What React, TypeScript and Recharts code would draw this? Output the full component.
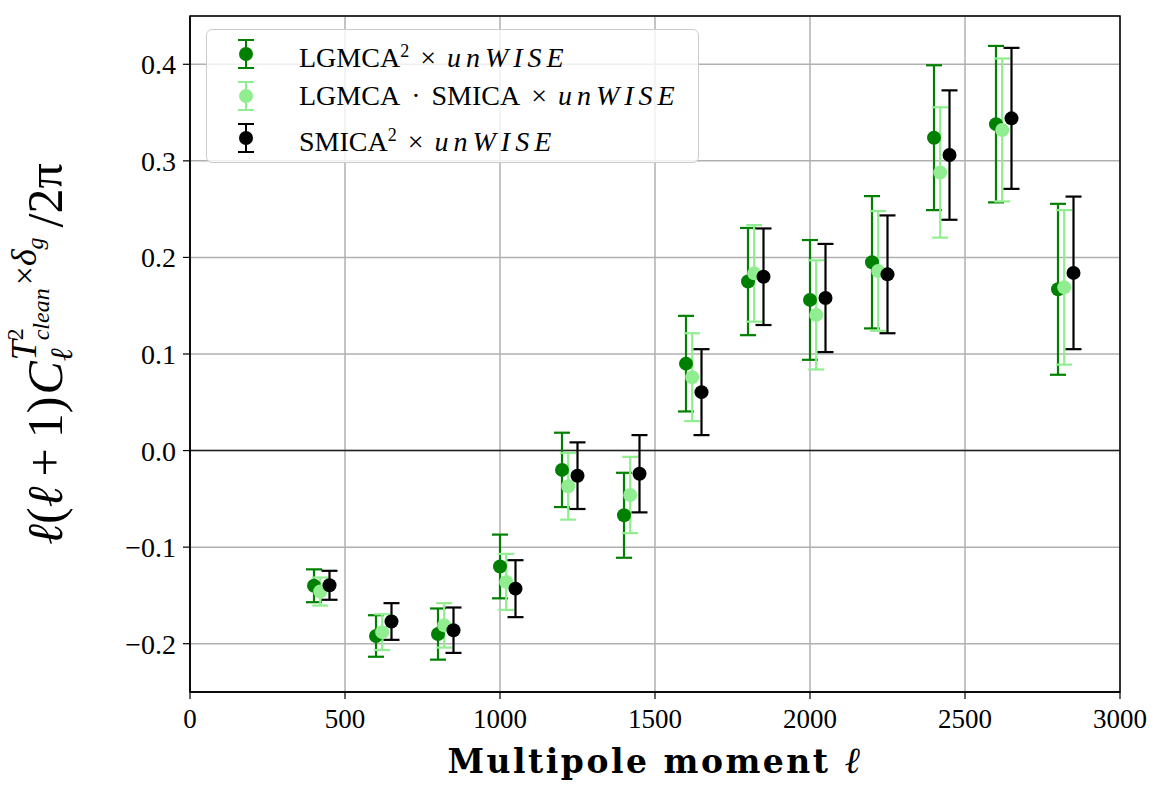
import React from 'react';
import {
  ScatterChart,
  Scatter,
  XAxis,
  YAxis,
  CartesianGrid,
  ErrorBar,
  ReferenceLine,
  ReferenceArea,
  Legend,
  Label,
} from 'recharts';

// multipole bins
const ells = [400, 600, 800, 1000, 1200, 1400, 1600, 1800, 2000, 2200, 2400, 2600, 2800];

// LGMCA^2 x unWISE
const lgmcaVals = [-0.140, -0.192, -0.190, -0.120, -0.020, -0.067, 0.090, 0.175, 0.156, 0.195, 0.324, 0.338, 0.167];
const lgmcaErr = [0.017, 0.0215, 0.0265, 0.033, 0.0385, 0.044, 0.0495, 0.0555, 0.062, 0.0685, 0.075, 0.081, 0.0885];

// LGMCA . SMICA x unWISE
const crossVals = [-0.146, -0.188, -0.181, -0.136, -0.037, -0.046, 0.076, 0.1835, 0.1405, 0.186, 0.288, 0.332, 0.169];
const crossErr = [0.0145, 0.0185, 0.023, 0.029, 0.0345, 0.0395, 0.0455, 0.05, 0.0565, 0.062, 0.0675, 0.074, 0.08];

// SMICA^2 x unWISE
const smicaVals = [-0.1395, -0.177, -0.186, -0.143, -0.026, -0.024, 0.0605, 0.18, 0.158, 0.1825, 0.306, 0.344, 0.184];
const smicaErr = [0.015, 0.019, 0.0235, 0.0295, 0.0345, 0.04, 0.0445, 0.05, 0.056, 0.061, 0.067, 0.073, 0.079];

const xTicks = [0, 500, 1000, 1500, 2000, 2500, 3000];
const yTicks = [-0.2, -0.1, 0.0, 0.1, 0.2, 0.3, 0.4];

const FONT = '"Liberation Serif", "DejaVu Serif", serif';

const series = [
  { name: 'lgmca', shift: 0, vals: lgmcaVals, errs: lgmcaErr, color: '#008000' },
  { name: 'cross', shift: 20, vals: crossVals, errs: crossErr, color: '#90ee90' },
  { name: 'smica', shift: 50, vals: smicaVals, errs: smicaErr, color: '#000000' },
];

const build = (shift: number, vals: number[], errs: number[]) =>
  ells.map((l, i) => ({ x: l + shift, y: vals[i], err: errs[i] }));

const fmtY = (v: number) => (v < 0 ? '\u2212' + Math.abs(v).toFixed(1) : v.toFixed(1));

const dot = (color: string) => (props: any) =>
  <circle cx={props.cx} cy={props.cy} r={7} fill={color} />;

const LegendMarker = ({ color }: { color: string }) => (
  <svg width={30} height={34} style={{ display: 'block' }}>
    <line x1={15} x2={15} y1={3} y2={31} stroke={color} strokeWidth={2} />
    <line x1={7} x2={23} y1={3} y2={3} stroke={color} strokeWidth={2} />
    <line x1={7} x2={23} y1={31} y2={31} stroke={color} strokeWidth={2} />
    <circle cx={15} cy={17} r={7} fill={color} />
  </svg>
);

const op = (s: string) => <span style={{ margin: '0 11px' }}>{s}</span>;
const unwise = <i style={{ letterSpacing: 5 }}>unWISE</i>;
const sq = <sup style={{ fontSize: 18, verticalAlign: 10 }}>2</sup>;

const legendRows = [
  { color: '#008000', label: <>LGMCA{sq}{op('×')}{unwise}</> },
  { color: '#90ee90', label: <>LGMCA{op('·')}SMICA{op('×')}{unwise}</> },
  { color: '#000000', label: <>SMICA{sq}{op('×')}{unwise}</> },
];

const LegendBox = () => (
  <div
    style={{
      width: 493,
      height: 134,
      border: '1px solid #cccccc',
      borderRadius: 6,
      background: 'rgba(255,255,255,0.8)',
      fontFamily: FONT,
      fontSize: 28,
      boxSizing: 'border-box',
      paddingTop: 3,
    }}
  >
    {legendRows.map((r, i) => (
      <div key={i} style={{ display: 'flex', alignItems: 'center', height: 42, lineHeight: '28px', whiteSpace: 'nowrap' }}>
        <div style={{ width: 24 }} />
        <LegendMarker color={r.color} />
        <div style={{ width: 38 }} />
        <span>{r.label}</span>
      </div>
    ))}
  </div>
);

const YLabel = (props: any) => {
  const vb = props.viewBox || { x: 0, y: 16, width: 190, height: 676 };
  const cx = 62;
  const cy = vb.y + vb.height / 2;
  return (
    <text
      transform={`translate(${cx},${cy}) rotate(-90)`}
      textAnchor="middle"
      fontFamily={FONT}
      fontSize={50}
      fill="#000"
    >
      <tspan fontStyle="italic">ℓ</tspan>(<tspan fontStyle="italic">ℓ</tspan>
      <tspan dx={10}>+</tspan>
      <tspan dx={10}>1)</tspan>
      <tspan fontStyle="italic" dx={2}>C</tspan>
      <tspan fontStyle="italic" fontSize={31} dy={10}>ℓ</tspan>
      <tspan fontStyle="italic" fontSize={36} dx={-12} dy={-36}>T</tspan>
      <tspan fontSize={24} dy={-13}>2</tspan>
      <tspan fontStyle="italic" fontSize={24} dx={-12} dy={26}>clean</tspan>
      <tspan fontSize={34} dx={3} dy={-13}>×</tspan>
      <tspan fontStyle="italic" fontSize={36}>δ</tspan>
      <tspan fontStyle="italic" fontSize={24} dy={7}>g</tspan>
      <tspan fontSize={50} dx={10} dy={19}>/2π</tspan>
    </text>
  );
};

const XLabel = (props: any) => {
  const vb = props.viewBox || { x: 190, y: 692, width: 930, height: 114 };
  return (
    <text
      x={vb.x + vb.width / 2}
      y={vb.y + 81}
      textAnchor="middle"
      fontFamily='"DejaVu Serif", serif'
      fontSize={33}
      fontWeight="bold"
      letterSpacing={2.5}
      fill="#000"
    >
      Multipole moment <tspan fontFamily={FONT} fontStyle="italic" fontWeight="normal" fontSize={37}>ℓ</tspan>
    </text>
  );
};

export default function App() {
  return (
    <div style={{ position: 'absolute', left: 0, top: 0, width: 1173, height: 806, background: '#fff' }}>
      <ScatterChart width={1173} height={806} margin={{ top: 16, right: 53, bottom: 0, left: 0 }}>
        <CartesianGrid stroke="#b0b0b0" strokeWidth={1.5} />
        <XAxis
          type="number"
          dataKey="x"
          domain={[0, 3000]}
          ticks={xTicks}
          allowDataOverflow
          height={114}
          tickSize={7}
          tickMargin={10}
          tick={{ fontFamily: FONT, fontSize: 27, fill: '#000' }}
          stroke="#000"
          axisLine={{ stroke: '#000', strokeWidth: 1.5 }}
          tickLine={{ stroke: '#000', strokeWidth: 1.2 }}
        >
          <Label content={<XLabel />} />
        </XAxis>
        <YAxis
          type="number"
          dataKey="y"
          domain={[-0.25, 0.45]}
          ticks={yTicks}
          allowDataOverflow
          width={190}
          tickFormatter={fmtY}
          tickSize={7}
          tickMargin={7}
          tick={{ fontFamily: FONT, fontSize: 28, fill: '#000' }}
          axisLine={{ stroke: '#000', strokeWidth: 1.5 }}
          tickLine={{ stroke: '#000', strokeWidth: 1.2 }}
        >
          <Label content={<YLabel />} />
        </YAxis>
        <ReferenceLine y={0} stroke="#222" strokeWidth={1.5} />
        <ReferenceArea x1={0} x2={3000} y1={-0.25} y2={0.45} fill="none" stroke="#000" strokeWidth={1.5} />
        {series.map((s) => (
          <Scatter
            key={s.name}
            name={s.name}
            data={build(s.shift, s.vals, s.errs)}
            fill={s.color}
            shape={dot(s.color)}
            isAnimationActive={false}
          >
            <ErrorBar dataKey="err" direction="y" width={8} strokeWidth={2.2} stroke={s.color} />
          </Scatter>
        ))}
        <Legend
          layout="horizontal"
          verticalAlign="middle"
          align="center"
          content={() => <LegendBox />}
          wrapperStyle={{ left: 206, top: 29, width: 493, height: 134 }}
        />
      </ScatterChart>
    </div>
  );
}
